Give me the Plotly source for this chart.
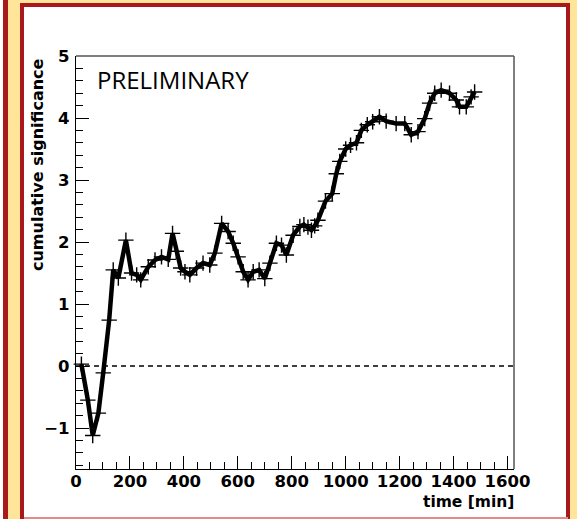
import plotly.graph_objects as go

# ---- data ----
time_min = [20, 44, 62, 83, 101, 123, 138, 157, 185, 206, 225, 240, 268, 293, 317, 342,
            358, 372, 388, 404, 422, 447, 471, 496, 515, 540, 564, 583, 601, 620, 638, 657,
            679, 700, 719, 743, 762, 780, 805, 830, 845, 860, 873, 885, 897, 925, 950, 965,
            978, 1000, 1018, 1040, 1058, 1080, 1100, 1125, 1150, 1187, 1219, 1243, 1268,
            1293, 1311, 1330, 1354, 1385, 1410, 1422, 1447, 1465, 1478]
significance = [0.03, -0.55, -1.12, -0.76, -0.11, 0.74, 1.55, 1.42, 2.03, 1.50, 1.47, 1.39,
                1.60, 1.71, 1.76, 1.72, 2.14, 1.85, 1.58, 1.52, 1.47, 1.58, 1.66, 1.63, 1.82,
                2.30, 2.17, 1.98, 1.76, 1.52, 1.39, 1.52, 1.55, 1.41, 1.66, 1.98, 1.95, 1.79,
                2.11, 2.25, 2.28, 2.24, 2.19, 2.26, 2.35, 2.66, 2.78, 3.10, 3.30, 3.50, 3.56,
                3.60, 3.80, 3.89, 3.94, 4.02, 3.95, 3.91, 3.91, 3.73, 3.78, 3.99, 4.24, 4.40,
                4.45, 4.40, 4.29, 4.18, 4.18, 4.34, 4.42]
x_ticks = [0, 200, 400, 600, 800, 1000, 1200, 1400, 1600]
y_ticks = [-1, 0, 1, 2, 3, 4, 5]
y_tick_text = ["\u22121", "0", "1", "2", "3", "4", "5"]

W, H = 577, 519
ML, MR, MT, MB = 76, 63, 56, 50
PW, PH = W - ML - MR, H - MT - MB


def px(xp):
    return (xp - ML) / PW


def py(yp):
    return (H - MB - yp) / PH


YELLOW = "#FEE59A"
RED = "#A8181D"

fig = go.Figure()
fig.add_trace(go.Scatter(
    x=time_min, y=significance, mode="lines+markers",
    line=dict(color="black", width=4.5),
    marker=dict(symbol="cross-thin", size=11, color="black",
                line=dict(width=1.4, color="black")),
    showlegend=False, cliponaxis=False,
))

shapes = [
    # left strip
    dict(type="rect", xref="paper", yref="paper", x0=px(0), x1=px(3), y0=py(0), y1=py(H),
         fillcolor="white", line_width=0, layer="below"),
    dict(type="rect", xref="paper", yref="paper", x0=px(3), x1=px(8), y0=py(0), y1=py(H),
         fillcolor=RED, line_width=0, layer="below"),
    # main panel
    dict(type="rect", xref="paper", yref="paper", x0=px(20), x1=px(570), y0=py(3), y1=py(H),
         fillcolor=RED, line_width=0, layer="below"),
    dict(type="rect", xref="paper", yref="paper", x0=px(24), x1=px(566), y0=py(7), y1=py(517),
         fillcolor="white", line_width=0, layer="below"),
    dict(type="rect", xref="paper", yref="paper", x0=px(24), x1=px(568), y0=py(517), y1=py(H),
         fillcolor="#E48A8A", line_width=0, layer="below"),
    # frame top & right
    dict(type="line", xref="paper", yref="paper", x0=0, x1=1, y0=1, y1=1,
         line=dict(color="#555555", width=1.5)),
    dict(type="line", xref="paper", yref="paper", x0=1, x1=1, y0=0, y1=1,
         line=dict(color="#555555", width=1.5)),
    # zero line
    dict(type="line", xref="paper", yref="y", x0=0, x1=1, y0=0, y1=0,
         line=dict(color="black", width=1.3, dash="5px,4px")),
]

tickfont = dict(family="DejaVu Sans", size=16.5, color="black", weight="bold")
fig.update_layout(
    width=W, height=H,
    margin=dict(l=ML, r=MR, t=MT, b=MB, pad=0),
    paper_bgcolor=YELLOW, plot_bgcolor="rgba(0,0,0,0)",
    shapes=shapes,
    xaxis=dict(range=[0, 1624], tickvals=x_ticks, ticks="inside", ticklen=13,
               tickwidth=1, tickcolor="black", showline=True, linecolor="black",
               linewidth=1.2, showgrid=False, zeroline=False, ticklabelstandoff=-3,
               tickfont=tickfont,
               minor=dict(dtick=50, ticks="inside", ticklen=7, tickcolor="black",
                          tickwidth=1, showgrid=False)),
    yaxis=dict(range=[-1.661, 5], tickvals=y_ticks, ticktext=y_tick_text,
               ticks="inside", ticklen=13, tickwidth=1, tickcolor="black",
               showline=True, linecolor="black", linewidth=1.2, showgrid=False,
               zeroline=False, ticklabelstandoff=2,
               tickfont=tickfont,
               minor=dict(dtick=0.2, ticks="inside", ticklen=7, tickcolor="black",
                          tickwidth=1, showgrid=False)),
    annotations=[
        dict(text="<b>time [min]</b>", xref="paper", yref="paper", x=px(516), y=py(502),
             xanchor="right", yanchor="middle", showarrow=False,
             font=dict(family="DejaVu Sans", size=15.5, color="black")),
        dict(text="<b>cumulative significance</b>", xref="paper", yref="paper",
             x=px(37), y=py(165), xanchor="center", yanchor="middle", textangle=-90,
             showarrow=False, font=dict(family="DejaVu Sans", size=16, color="black")),
        dict(text="PRELIMINARY", xref="paper", yref="paper", x=px(95), y=py(79),
             xanchor="left", yanchor="middle", showarrow=False,
             font=dict(family="Open Sans", size=24, color="black")),
    ],
)

fig.write_html("out.html")
